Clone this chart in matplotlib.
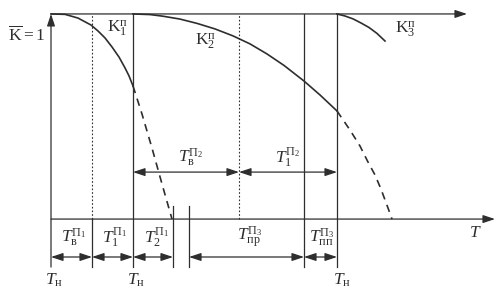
"""
Schematic: readiness coefficient curves K1, K2, K3 and service time intervals.
"""

import matplotlib
matplotlib.use("Agg")
import matplotlib.pyplot as plt

plt.rcParams['mathtext.fontset'] = 'custom'
plt.rcParams['mathtext.rm'] = 'Liberation Serif'
plt.rcParams['mathtext.it'] = 'Liberation Serif:italic'
plt.rcParams['mathtext.bf'] = 'Liberation Serif:bold'
plt.rcParams['font.family'] = ['Liberation Serif', 'DejaVu Serif']

# ----- Data (time in arbitrary units, K from 0 to 1) -----

# K1 curve: solid part and dashed continuation
k1_t = [0, 1.4, 2.7, 4.0, 4.7, 5.4, 6.1, 6.8, 7.4, 7.8, 8.2]
k1_k = [1, 0.998, 0.980, 0.946, 0.917, 0.883, 0.839, 0.790, 0.737, 0.698, 0.649]
k1d_t = [8.2, 9.1, 10.1, 11.1, 12.1]
k1d_k = [0.649, 0.512, 0.346, 0.171, 0.0]

# K2 curve
k2_t = [8.2, 9.9, 11.2, 12.9, 14.6, 16.4, 18.2, 19.9, 21.6, 23.3, 25.3, 26.9, 28.6]
k2_k = [1, 0.997, 0.989, 0.975, 0.954, 0.927, 0.893, 0.854, 0.805, 0.749, 0.673, 0.605, 0.527]
k2d_t = [28.6, 29.9, 30.9, 31.7, 32.4, 33.0, 33.7, 34.1]
k2d_k = [0.527, 0.434, 0.356, 0.278, 0.215, 0.146, 0.054, 0.0]

# K3 curve (only the start is drawn)
k3_t = [28.6, 29.4, 30.2, 31.0, 31.8, 32.6, 33.4]
k3_k = [1, 0.990, 0.976, 0.956, 0.934, 0.905, 0.868]

# time marks
t_start1, t_v1, t_start2, t_end1, t_pr3, t_v2, t_pp3, t_start3 = 0, 4.1, 8.2, 12.2, 13.8, 18.8, 25.3, 28.6
t_top_end = 41.6
t_axis_end = 44.4

# labels
bottom_labels = [r'$T_{\mathrm{в}}^{\mathrm{П}_1}$', r'$T_{1}^{\mathrm{П}_1}$', r'$T_{2}^{\mathrm{П}_1}$',
                 r'$T_{\mathrm{пр}}^{\mathrm{П}_3}$', r'$T_{\mathrm{пп}}^{\mathrm{П}_3}$']
bottom_label_t = [2.3, 6.4, 10.6, 19.9, 27.1]
mid_labels = [r'$T_{\mathrm{в}}^{\mathrm{П}_2}$', r'$T_{1}^{\mathrm{П}_2}$']
mid_label_t = [14.0, 23.7]
curve_labels = [r'$\mathrm{K}_1^{\mathrm{п}}$', r'$\mathrm{K}_2^{\mathrm{п}}$', r'$\mathrm{K}_3^{\mathrm{п}}$']
curve_label_pos = [(6.6, 0.927), (15.4, 0.863), (35.4, 0.922)]
tn_label_t = [0.3, 8.5, 29.1]

# ----- Plot -----

col = '#2e2e2e'
lw = 0.9
fs = 12.5
y_low = -0.234      # bottom end of vertical marks
y_arrow_low = -0.185
y_arrow_mid = 0.229
y_short = 0.063

fig = plt.figure(figsize=(5.03, 2.97), dpi=100)
ax = fig.add_axes([0, 0, 1, 1])
ax.set_xlim(-5.1, 45.2)
ax.set_ylim(-0.380, 1.068)
ax.axis('off')

head = '-|>,head_length=0.6,head_width=0.2'
dhead = '<|-|>,head_length=0.6,head_width=0.2'


def arrow(x0, y0, x1, y1, style=dhead):
    ax.annotate('', xy=(x1, y1), xytext=(x0, y0),
                arrowprops=dict(arrowstyle=style, color=col, lw=lw,
                                shrinkA=0, shrinkB=0, mutation_scale=12))


# axes
arrow(t_start1, 1, t_top_end, 1, head)
arrow(t_start1, 0, t_axis_end, 0, head)
arrow(t_start1, y_low, t_start1, 1.0, head)

# vertical marks
for t in [t_start2, t_pp3, t_start3]:
    ax.plot([t, t], [y_low, 1], color=col, lw=lw)
for t in [t_v1, t_v2]:
    ax.plot([t, t], [0, 1], color=col, lw=0.8, ls=(0, (1.5, 1.8)))
ax.plot([t_v1, t_v1], [y_low, 0], color=col, lw=lw)
for t in [t_end1, t_pr3]:
    ax.plot([t, t], [y_low, y_short], color=col, lw=lw)

# curves
ax.plot(k1_t, k1_k, color=col, lw=1.2)
ax.plot(k1d_t, k1d_k, color=col, lw=1.2, ls=(0, (4.5, 3.5)))
ax.plot(k2_t, k2_k, color=col, lw=1.2)
ax.plot(k2d_t, k2d_k, color=col, lw=1.2, ls=(0, (4.5, 3.5)))
ax.plot(k3_t, k3_k, color=col, lw=1.2)

# interval arrows
arrow(t_start1, y_arrow_low, t_v1, y_arrow_low)
arrow(t_v1, y_arrow_low, t_start2, y_arrow_low)
arrow(t_start2, y_arrow_low, t_end1, y_arrow_low)
arrow(t_pr3, y_arrow_low, t_pp3, y_arrow_low)
arrow(t_pp3, y_arrow_low, t_start3, y_arrow_low)
arrow(t_start2, y_arrow_mid, t_v2, y_arrow_mid)
arrow(t_v2, y_arrow_mid, t_start3, y_arrow_mid)

# text
ax.text(-2.4, 0.898, r'$\overline{\mathrm{K}} = 1$', fontsize=fs, ha='center', va='center', color=col)
for s, (x, y) in zip(curve_labels, curve_label_pos):
    ax.text(x, y, s, fontsize=fs, ha='center', va='center', color=col)
for s, x in zip(bottom_labels, bottom_label_t):
    ax.text(x, -0.088, s, fontsize=fs, ha='center', va='center', color=col)
for s, x in zip(mid_labels, mid_label_t):
    ax.text(x, 0.302, s, fontsize=fs, ha='center', va='center', color=col)
for x in tn_label_t:
    ax.text(x, -0.298, r'$T_{\mathrm{н}}$', fontsize=fs, ha='center', va='center', color=col)
ax.text(42.4, -0.068, r'$T$', fontsize=fs, ha='center', va='center', color=col)

fig.savefig('out.png', dpi=100)
